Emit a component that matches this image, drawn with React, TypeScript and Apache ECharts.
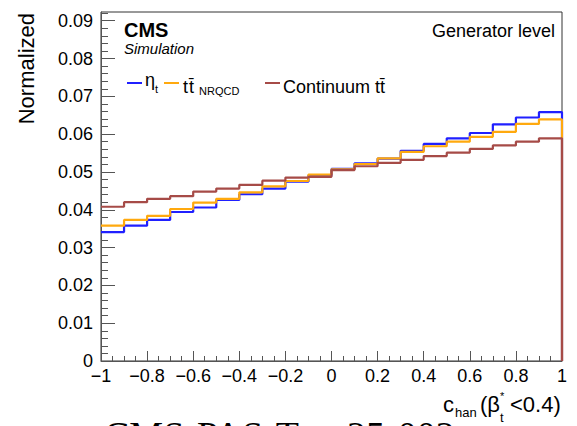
import React, { useEffect, useRef } from 'react';
import * as echarts from 'echarts';

// Bin edges of the histogram (c_han from -1 to 1, 20 bins)
const binEdges = [-1, -0.9, -0.8, -0.7, -0.6, -0.5, -0.4, -0.3, -0.2, -0.1, 0, 0.1, 0.2, 0.3, 0.4, 0.5, 0.6, 0.7, 0.8, 0.9, 1];

// Normalized bin contents
const etaT = [0.0341, 0.0358, 0.0373, 0.0394, 0.0406, 0.0426, 0.0441, 0.0456, 0.0474, 0.0491, 0.0508, 0.0523, 0.0535, 0.0556, 0.0574, 0.0589, 0.0603, 0.0626, 0.0644, 0.0658];
const ttNRQCD = [0.0358, 0.0373, 0.0384, 0.0402, 0.0419, 0.0429, 0.0446, 0.0462, 0.0476, 0.0493, 0.0507, 0.0521, 0.0536, 0.0553, 0.0568, 0.0580, 0.0593, 0.0606, 0.0627, 0.0639];
const continuumTT = [0.0408, 0.0420, 0.0429, 0.0436, 0.0448, 0.0456, 0.0466, 0.0477, 0.0485, 0.0487, 0.0505, 0.0515, 0.0524, 0.0532, 0.0542, 0.0551, 0.0561, 0.0570, 0.0580, 0.0589];

// Axis ticks
const yMajorTicks = [0, 0.01, 0.02, 0.03, 0.04, 0.05, 0.06, 0.07, 0.08, 0.09];
const yMax = 0.0923;
const yMinorTicks = Array.from({ length: 47 }, (_, i) => +(i * 0.002).toFixed(3));
const xMin = -1;
const xMax = 1;
const xInterval = 0.2;

const FONT = '"Liberation Sans", Arial, Helvetica, sans-serif';
const BLUE = '#2020ff';
const ORANGE = '#ffa90e';
const BROWN = '#a64b47';
const AXIS = '#555';

function histPoints(vals: number[]) {
  const pts: number[][] = vals.map((v, i) => [binEdges[i], v]);
  const n = vals.length;
  pts.push([binEdges[n], vals[n - 1]]);
  pts.push([binEdges[n], 0]);
  return pts;
}

function fmtX(v: number) {
  if (Math.abs(v) < 1e-9) return '0';
  const s = String(Number(v.toFixed(1)));
  return s.replace('-', '\u2212');
}

function fmtY(v: number) {
  if (Math.abs(v) < 1e-9) return '0';
  return v.toFixed(2);
}

function txt(text: string, x: number, y: number, size: number, extra: any = {}) {
  return {
    type: 'text',
    x,
    y,
    silent: true,
    style: {
      text,
      fontFamily: FONT,
      fontSize: size,
      fill: '#000',
      align: 'left',
      verticalAlign: 'middle',
      ...extra,
    },
  };
}

function legendLine(x1: number, x2: number, y: number, color: string) {
  return {
    type: 'line',
    silent: true,
    shape: { x1, y1: y, x2, y2: y },
    style: { stroke: color, lineWidth: 2 },
  };
}

export default function App() {
  const ref = useRef<HTMLDivElement>(null);

  useEffect(() => {
    if (!ref.current) return;
    const chart = echarts.init(ref.current, undefined, { renderer: 'svg' });

    const series = [
      { name: 'eta_t', values: etaT, color: BLUE },
      { name: 'ttNRQCD', values: ttNRQCD, color: ORANGE },
      { name: 'Continuum', values: continuumTT, color: BROWN },
    ].map((s, i) => ({
      type: 'line',
      name: s.name,
      step: 'end',
      data: histPoints(s.values),
      showSymbol: false,
      symbol: 'none',
      clip: false,
      silent: true,
      z: 3 + i,
      lineStyle: { color: s.color, width: 2.2 },
      xAxisIndex: 0,
      yAxisIndex: 0,
    }));

    const option: any = {
      animation: false,
      backgroundColor: '#fff',
      grid: {
        left: 101,
        right: 15,
        top: 12,
        bottom: 65,
        show: true,
        borderColor: '#333',
        borderWidth: 1,
        backgroundColor: 'transparent',
        containLabel: false,
      },
      xAxis: {
        type: 'value',
        min: xMin,
        max: xMax,
        interval: xInterval,
        axisLine: { show: true, onZero: false, lineStyle: { color: AXIS, width: 1 } },
        axisTick: { show: true, inside: true, length: 10, lineStyle: { color: AXIS } },
        minorTick: { show: true, splitNumber: 4, length: 5, lineStyle: { color: AXIS } },
        splitLine: { show: false },
        minorSplitLine: { show: false },
        axisLabel: {
          fontFamily: FONT,
          fontSize: 18,
          color: '#000',
          margin: 6,
          formatter: fmtX,
        },
      },
      yAxis: [
        {
          type: 'value',
          min: 0,
          max: yMax,
          position: 'left',
          axisLine: { show: true, onZero: false, lineStyle: { color: AXIS, width: 1 } },
          axisTick: { show: true, inside: true, length: 14, customValues: yMajorTicks, lineStyle: { color: AXIS } },
          splitLine: { show: false },
          axisLabel: {
            customValues: yMajorTicks,
            fontFamily: FONT,
            fontSize: 18,
            color: '#000',
            margin: 8,
            formatter: fmtY,
          },
        },
        {
          type: 'value',
          min: 0,
          max: yMax,
          position: 'left',
          offset: 0,
          axisLine: { show: false, onZero: false },
          axisTick: { show: true, inside: true, length: 7, customValues: yMinorTicks, lineStyle: { color: AXIS } },
          splitLine: { show: false },
          axisLabel: { show: false },
        },
      ],
      series,
      graphic: [
        // y-axis title
        {
          type: 'text',
          x: 26,
          y: 13,
          rotation: Math.PI / 2,
          silent: true,
          style: {
            text: 'Normalized',
            fontFamily: FONT,
            fontSize: 22,
            fill: '#000',
            align: 'right',
            verticalAlign: 'middle',
          },
        },
        // CMS label
        txt('CMS', 124, 30, 20, { fontWeight: 'bold' }),
        txt('Simulation', 124, 48, 15, { fontStyle: 'italic' }),
        txt('Generator level', 555, 31, 18, { align: 'right' }),
        // legend
        legendLine(127, 142, 83, BLUE),
        txt('\u03b7', 145, 80, 18),
        txt('t', 155, 89, 11),
        legendLine(164, 179, 83, ORANGE),
        txt('t', 183, 86.5, 18),
        txt('t\u0304', 189, 86.5, 18),
        txt('NRQCD', 199, 91, 11),
        legendLine(265, 280, 83, BROWN),
        txt('Continuum tt\u0304', 283, 86.5, 18),
        // x-axis title: c_han (β*_t<0.4)
        txt('c', 443, 404.4, 22),
        txt('han', 455, 412.5, 13),
        txt('(\u03b2', 480, 404.4, 22),
        txt('*', 500, 395.5, 11),
        txt('t', 500, 417, 13),
        txt('<0.4)', 510, 404.4, 22),
        // cut-off caption at the bottom
        {
          type: 'text',
          x: 104,
          y: 435,
          silent: true,
          style: {
            text: 'CMS-PAS-Top-25-002',
            fontFamily: '"Liberation Serif", "Times New Roman", serif',
            fontSize: 38,
            fill: '#000',
            align: 'left',
            verticalAlign: 'middle',
          },
        },
      ],
    };

    chart.setOption(option);
    return () => {
      chart.dispose();
    };
  }, []);

  return (
    <div
      ref={ref}
      style={{ position: 'absolute', left: 0, top: 0, width: 577, height: 426 }}
    />
  );
}
